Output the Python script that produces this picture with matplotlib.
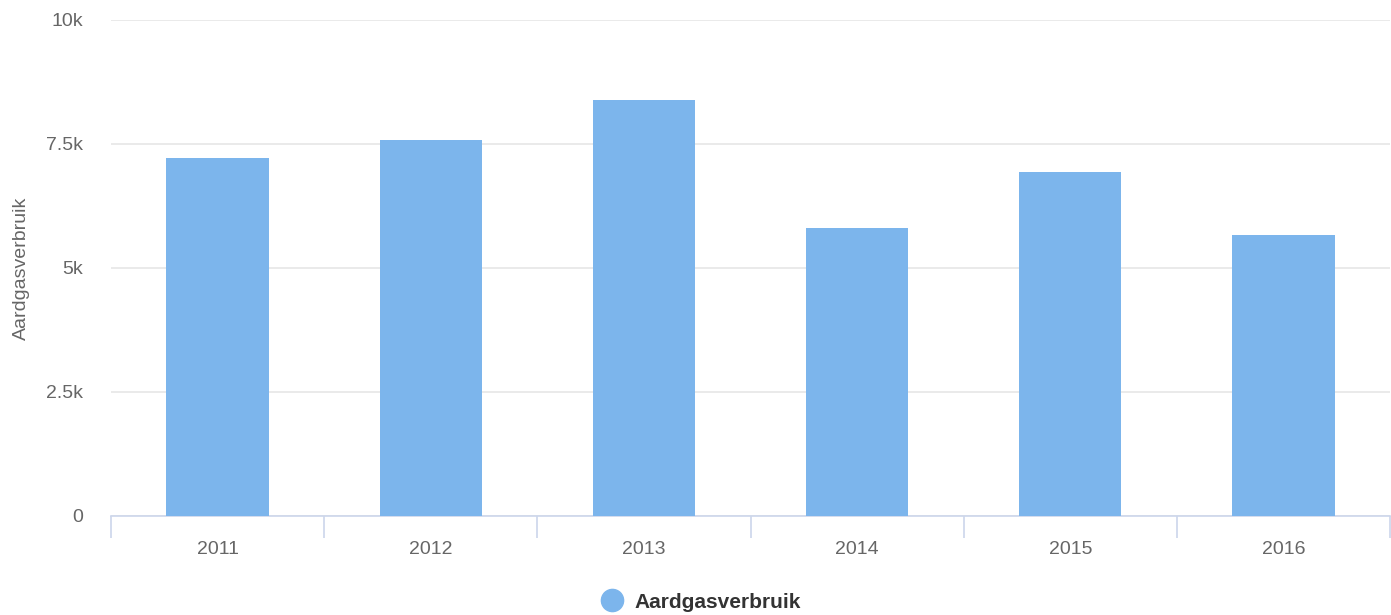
import matplotlib.pyplot as plt
from matplotlib.ticker import FixedLocator, NullFormatter
from matplotlib.lines import Line2D

plt.rcParams['font.family'] = ['Liberation Sans', 'DejaVu Sans']

years = ['2011', '2012', '2013', '2014', '2015', '2016']
verbruik = [7220, 7590, 8390, 5810, 6940, 5670]
yticks = [0, 2500, 5000, 7500, 10000]
ylabels = ['0', '2.5k', '5k', '7.5k', '10k']

fig = plt.figure(figsize=(13.91, 6.15), dpi=100)
ax = fig.add_axes([111 / 1391, 99 / 615, 1279 / 1391, 496 / 615])

x = list(range(len(years)))
ax.bar(x, verbruik, width=0.48, color='#7cb5ec', zorder=3)

ax.set_xlim(-0.5, len(years) - 0.5)
ax.set_ylim(0, 10000)
ax.set_yticks(yticks)
ax.set_yticklabels(ylabels)
ax.yaxis.grid(True, color='#e6e6e6', linewidth=1.2, zorder=0)
ax.tick_params(axis='y', length=0, pad=20, labelsize=14, labelcolor='#666666')

# category labels in the middle, tick marks on the boundaries
ax.set_xticks(x)
ax.set_xticklabels(years)
ax.tick_params(axis='x', which='major', length=0, pad=18, labelsize=14, labelcolor='#666666')
ax.xaxis.set_minor_locator(FixedLocator([i - 0.5 for i in range(len(years) + 1)]))
ax.xaxis.set_minor_formatter(NullFormatter())
ax.tick_params(axis='x', which='minor', length=16, width=1.2, color='#ccd6eb')

for side in ['top', 'right', 'left']:
    ax.spines[side].set_visible(False)
ax.spines['bottom'].set_color('#ccd6eb')
ax.spines['bottom'].set_linewidth(1.2)

fig.text(21 / 1391, 1 - 268 / 615, 'Aardgasverbruik', rotation=90, ha='center', va='center',
         fontsize=14, color='#666666')

handle = Line2D([], [], marker='o', linestyle='', markersize=16, color='#7cb5ec')
leg = fig.legend([handle], ['Aardgasverbruik'], loc='center', bbox_to_anchor=(700 / 1391, 1 - 602 / 615),
                 frameon=False, prop={'size': 15, 'weight': 'bold'}, handletextpad=0.5, handlelength=1.2)
for t in leg.get_texts():
    t.set_color('#333333')

fig.savefig('out.png', dpi=100)
